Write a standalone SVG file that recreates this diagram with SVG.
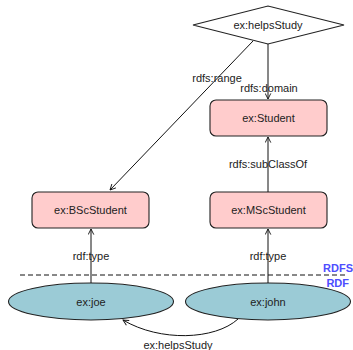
<svg xmlns="http://www.w3.org/2000/svg" width="353" height="350" viewBox="0 0 353 350">
  <style>
    text { font-family: "Liberation Sans", Arial, sans-serif; font-size: 11px; fill: #222; }
    .cls { fill: #ffcccc; stroke: #222; stroke-width: 1.1; }
    .ind { fill: #9bcbd6; stroke: #222; stroke-width: 1.1; }
    .prop { fill: #ffffff; stroke: #222; stroke-width: 1.1; }
    .edge { fill: none; stroke: #111; stroke-width: 1; marker-end: url(#arrow); }
    .layer { font-weight: bold; fill: #4d4dff; font-size: 11px; }
  </style>
  <defs>
    <marker id="arrow" viewBox="0 0 10 10" refX="9" refY="5" markerWidth="7" markerHeight="7" orient="auto" markerUnits="userSpaceOnUse">
      <path d="M1,1 L9,5 L1,9" fill="none" stroke="#111" stroke-width="1.3"/>
    </marker>
  </defs>

  <!-- layer separator -->
  <line x1="20" y1="275" x2="347" y2="275" stroke="#111" stroke-width="1" stroke-dasharray="5,3"/>
  <text class="layer" x="353" y="272" text-anchor="end">RDFS</text>
  <text class="layer" x="349" y="287" text-anchor="end">RDF</text>

  <g id="helpsStudy">
    <polygon class="prop" points="193,25 268,6 344,25 268,44"/>
    <text x="268" y="29" text-anchor="middle">ex:helpsStudy</text>
  </g>
  <g id="Student">
    <rect class="cls" x="210" y="100" width="117" height="36" rx="6"/>
    <text x="268.5" y="122" text-anchor="middle">ex:Student</text>
  </g>
  <g id="BScStudent">
    <rect class="cls" x="32" y="192" width="117" height="36" rx="6"/>
    <text x="90.5" y="214" text-anchor="middle">ex:BScStudent</text>
  </g>
  <g id="MScStudent">
    <rect class="cls" x="210" y="192" width="117" height="36" rx="6"/>
    <text x="268.5" y="214" text-anchor="middle">ex:MScStudent</text>
  </g>
  <g id="joe">
    <ellipse class="ind" cx="91" cy="301.5" rx="82.5" ry="18.5"/>
    <text x="91" y="305.5" text-anchor="middle">ex:joe</text>
  </g>
  <g id="john">
    <ellipse class="ind" cx="268" cy="301.5" rx="82.5" ry="18.5"/>
    <text x="268" y="305.5" text-anchor="middle">ex:john</text>
  </g>

  <g id="connectors">
    <line class="edge" x1="253" y1="41" x2="110" y2="190"/>
    <line class="edge" x1="268" y1="44" x2="268" y2="99"/>
    <line class="edge" x1="268" y1="192" x2="268" y2="137"/>
    <line class="edge" x1="91" y1="283" x2="91" y2="229"/>
    <line class="edge" x1="268" y1="283" x2="268" y2="229"/>
    <path class="edge" d="M238,319 C215,340 160,342 123,320"/>
    <text x="217" y="82" text-anchor="middle">rdfs:range</text>
    <text x="269" y="91.5" text-anchor="middle">rdfs:domain</text>
    <text x="268" y="168" text-anchor="middle">rdfs:subClassOf</text>
    <text x="91" y="259.5" text-anchor="middle">rdf:type</text>
    <text x="268" y="259.5" text-anchor="middle">rdf:type</text>
    <text x="178" y="349" text-anchor="middle">ex:helpsStudy</text>
  </g>
</svg>
